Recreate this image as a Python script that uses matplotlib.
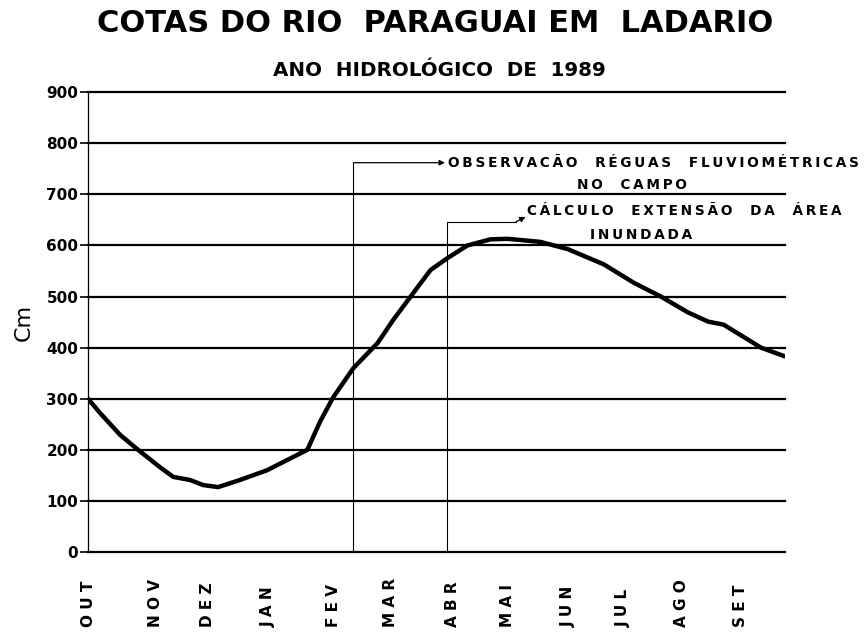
import matplotlib
matplotlib.use("Agg")
import matplotlib.pyplot as plt

# month labels and where they sit along the axis (hand drawn, uneven)
months = ["OUT", "NOV", "DEZ", "JAN", "FEV", "MAR", "ABR", "MAI", "JUN", "JUL", "AGO", "SET"]
month_pos = [0, 1.17, 2.07, 3.13, 4.26, 5.25, 6.33, 7.29, 8.35, 9.3, 10.3, 11.34]

# river level (cm)
t = [0, 0.21, 0.56, 0.87, 1.25, 1.48, 1.77, 2.0, 2.26, 2.64, 3.11, 3.46, 3.81,
     4.03, 4.26, 4.61, 5.03, 5.30, 5.65, 5.95, 6.24, 6.59, 6.99, 7.29, 7.86,
     8.33, 8.96, 9.48, 9.95, 10.42, 10.77, 11.04, 11.69, 12.1]
level = [300, 272, 229, 200, 166, 147, 141, 131, 127, 141, 160, 180, 200,
         255, 303, 360, 409, 454, 507, 552, 575, 600, 612, 613, 607,
         593, 563, 527, 500, 469, 451, 445, 400, 383]

yticks = [0, 100, 200, 300, 400, 500, 600, 700, 800, 900]

# annotation markers
obs_x, obs_top = 4.61, 762
calc_x, calc_top = 6.24, 646


def spaced(s):
    # stretched lettering like the stencil on the original
    return "\u2009".join(s)


fig = plt.figure(figsize=(8.67, 6.32), dpi=100)
ax = fig.add_axes([0.1015, 0.1266, 0.8035, 0.7275])

for v in yticks:
    ax.axhline(v, color="black", lw=1.6, zorder=1, clip_on=False)

ax.plot(t, level, color="black", lw=3.2, solid_capstyle="round", zorder=3)

# vertical markers + arrows
ax.plot([obs_x, obs_x], [0, obs_top], color="black", lw=0.8)
ax.annotate("", xy=(6.2, obs_top), xytext=(obs_x, obs_top),
            arrowprops=dict(arrowstyle="-|>", color="black", lw=0.9, mutation_scale=8,
                            shrinkA=0, shrinkB=0))
ax.text(6.26, obs_top, spaced("OBSERVACÃO  RÉGUAS  FLUVIOMÉTRICAS"), fontsize=9.8,
        fontweight="bold", va="center", ha="left", clip_on=False)
ax.text(9.45, 705, spaced("NO  CAMPO"), fontsize=9.8, fontweight="bold",
        va="bottom", ha="center")

ax.plot([calc_x, calc_x, 7.43], [0, calc_top, calc_top], color="black", lw=0.8)
ax.annotate("", xy=(7.6, 656), xytext=(7.43, calc_top),
            arrowprops=dict(arrowstyle="-|>", color="black", lw=0.9, mutation_scale=8,
                            shrinkA=0, shrinkB=0))
ax.text(7.63, 667, spaced("CÁLCULO  EXTENSÃO  DA  ÁREA"), fontsize=9.8,
        fontweight="bold", va="center", ha="left", clip_on=False)
ax.text(9.6, 606, spaced("INUNDADA"), fontsize=9.8, fontweight="bold",
        va="bottom", ha="center")

ax.set_xlim(0, 12.1)
ax.set_ylim(0, 900)

for s in ["top", "right", "bottom"]:
    ax.spines[s].set_visible(False)
ax.spines["left"].set_linewidth(0.9)

ax.set_yticks(yticks)
ax.set_yticklabels([str(v) for v in yticks], fontsize=11, fontweight="bold")
ax.tick_params(axis="y", direction="inout", length=12, width=1.2, pad=1)

ax.set_xticks(month_pos)
ax.set_xticklabels([" ".join(m) for m in months], rotation=90, fontsize=11,
                   fontweight="bold", va="bottom")
ax.tick_params(axis="x", length=0, pad=54)

ax.set_ylabel("Cm", fontsize=16, labelpad=9)

fig.text(0.502, 0.963, "COTAS DO RIO  PARAGUAI EM  LADARIO", fontsize=22,
         fontweight="bold", ha="center", va="center")
fig.text(0.507, 0.889, "ANO  HIDROLÓGICO  DE  1989", fontsize=14.3,
         fontweight="bold", ha="center", va="center")

fig.savefig("out.png", dpi=100)
